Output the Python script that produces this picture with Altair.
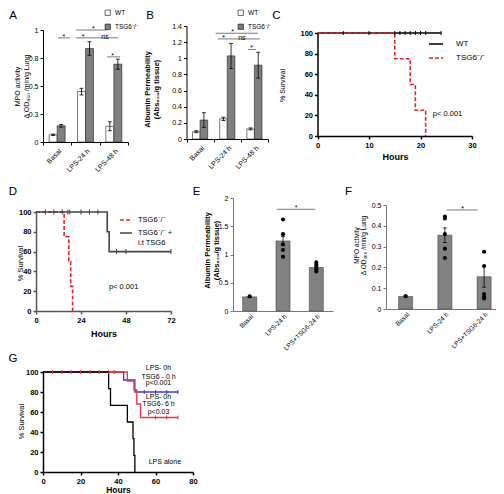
import altair as alt
import pandas as pd

W, H = 488, 486
M = 8
FONT = "Liberation Sans"


def cx(p):
    return p - M


def cy(p):
    return p - M


# ---------------- DATA ----------------
cats_ab = ["Basal", "LPS-24 h", "LPS-48 h"]
cats_ef = ["Basal", "LPS-24 h", "LPS+TSG6-24 h"]
genotypes = ["WT", "TSG6⁻/⁻"]

# A : MPO activity
a_wt_mean = [0.065, 0.45, 0.14]
a_wt_err = [0.006, 0.03, 0.04]
a_ko_mean = [0.145, 0.835, 0.695]
a_ko_err = [0.012, 0.06, 0.045]
a_sig_x1 = [0.53, 1.16, 1.16, 2.26]
a_sig_x2 = [0.95, 2.29, 2.65, 2.72]
a_sig_y = [0.93, 1.0, 0.93, 0.76]
a_txt_x = [0.74, 1.78, 1.42, 2.19, 2.46]
a_txt_y = [0.93, 1.0, 0.93, 0.93, 0.76]
a_txt = ["*", "*", "*", "ns", "*"]

# B : albumin permeability
b_wt_mean = [0.09, 0.25, 0.125]
b_wt_err = [0.012, 0.02, 0.012]
b_ko_mean = [0.235, 1.03, 0.915]
b_ko_err = [0.09, 0.155, 0.16]
b_sig_x1 = [1.07, 1.15, 2.26]
b_sig_x2 = [2.63, 2.70, 2.56]
b_sig_y = [1.31, 1.24, 1.11]
b_txt_x = [1.70, 1.37, 2.04, 2.40]
b_txt_y = [1.31, 1.24, 1.24, 1.11]
b_txt = ["*", "*", "ns", "*"]

# C : survival
c_groups = ["WT", "TSG6⁻/⁻"]
c_wt_t = [0, 24]
c_wt_s = [100, 100]
c_ko_t = [0, 15, 18, 19, 21]
c_ko_s = [100, 75, 50, 25, 0]
c_cens_t = [5, 10, 15, 16, 17, 18, 19, 20, 21, 24]
c_cens_s = [100] * 10
c_p_x = [22.4]
c_p_y = [21.4]
c_p = ["p< 0.001"]

# D : survival
d_groups = ["TSG6⁻/⁻", "TSG6⁻/⁻ +|i.t TSG6"]
d_ko_t = [0, 15, 17.5, 18.5, 19.5]
d_ko_s = [100, 75, 50, 25, 0]
d_tr_t = [0, 38, 39, 72]
d_tr_s = [100, 80, 60, 60]
d_cens_t = [5, 9.5, 14, 17, 18, 24, 28.5, 33, 43, 48, 72]
d_cens_s = [100, 100, 100, 100, 100, 100, 100, 100, 60, 60, 60]
d_p_x = [38.9]
d_p_y = [24.2]
d_p = ["p< 0.001"]

# E : albumin permeability
e_mean = [0.25, 1.24, 0.77]
e_err = [0.01, 0.075, 0.03]
dot_cat = ["Basal"] + ["LPS-24 h"] * 5 + ["LPS+TSG6-24 h"] * 5
e_dot = [0.26, 1.62, 1.36, 1.18, 1.08, 0.96, 0.86, 0.82, 0.78, 0.74, 0.70]
e_sig_x1 = [1.32]
e_sig_x2 = [2.46]
e_sig_y = [1.80]
e_txt_x = [1.89]
e_txt = ["*"]

# F : MPO activity
f_mean = [0.06, 0.355, 0.155]
f_err = [0.003, 0.035, 0.05]
f_dot = [0.062, 0.445, 0.435, 0.36, 0.29, 0.245, 0.275, 0.207, 0.072, 0.059, 0.051]
f_sig_x1 = [1.55]
f_sig_x2 = [2.34]
f_sig_y = [0.476]
f_txt_x = [1.95]
f_txt = ["*"]

# G : survival
g_alone_t = [0, 35, 36, 45, 48, 48.5, 49]
g_alone_s = [100, 83.3, 66.7, 50, 33.3, 16.7, 0]
g_t0_t = [0, 43, 49, 72]
g_t0_s = [100, 92, 80, 80]
g_t6_t = [0, 45, 48.5, 50, 52, 72]
g_t6_s = [100, 91, 82, 68, 54.5, 54.5]
g_t6_cens_t = [5, 10, 15, 20, 25, 30, 35, 38, 60, 66, 72]
g_t6_cens_s = [100, 100, 100, 100, 100, 100, 100, 100, 54.5, 54.5, 54.5]
g_t0_cens_t = [54, 60, 66, 72]
g_t0_cens_s = [80, 80, 80, 80]
g_note_x = [61.6, 61.6, 61.6, 61.6, 61.6, 61.6, 65]
g_note_y = [103.7, 95.3, 88.7, 75.3, 68, 60.3, 10]
g_note = ["LPS- 0h", "TSG6 - 0 h", "p<0.001", "LPS- 0h", "TSG6- 6 h", "p<0.03", "LPS alone"]

panel_letters = ["A", "B", "C", "D", "E", "F", "G"]

# ---------------- GEOMETRY (page pixels) ----------------
GEO = {
    "A": dict(x=(43, 128), y=(142, 30), ydom=(0, 1)),
    "B": dict(x=(186.5, 268), y=(139, 26), ydom=(0, 1.4)),
    "C": dict(x=(317.5, 472), y=(136, 33), xdom=(0, 30), ydom=(0, 100)),
    "D": dict(x=(36, 171), y=(311, 212), xdom=(0, 72), ydom=(0, 100)),
    "E": dict(x=(233, 333), y=(311, 198), ydom=(0, 2)),
    "F": dict(x=(386, 503.75), y=(309, 205), ydom=(0, 0.5)),
    "G": dict(x=(43, 193), y=(472, 372), xdom=(0, 80), ydom=(0, 100)),
}
LETTER_POS = [(13, 15.5), (150, 15.5), (276.5, 15.5), (13, 191.5), (196.5, 191.5), (348.5, 192),
              (13, 358.5)]


def XR(k):
    a, b = GEO[k]["x"]
    return [cx(a), cx(b)]


def YR(k):
    a, b = GEO[k]["y"]
    return [cy(a), cy(b)]


def qsc(dom, rng):
    return alt.Scale(domain=list(dom), range=list(rng), nice=False, zero=False)


def bsc(cats, rng):
    return alt.Scale(type="band", domain=list(cats), range=list(rng), paddingInner=0, paddingOuter=0)


def left_axis(k, values, title, tx, ty, fmt=None, bold=False, tbold=False, size=7, tsize=7,
              lh=9, dcol="black", dw=1.0):
    kw = dict(orient="left", offset=-cx(GEO[k]["x"][0]), values=values, title=title,
              titleX=tx - GEO[k]["x"][0], titleY=cy(ty), titleBaseline="middle", titleAngle=270,
              titleAlign="center", titleFontSize=tsize, titleFontWeight="bold" if tbold else "normal",
              titleLineHeight=lh, titleFont=FONT, titleColor="black",
              labelFontSize=size, labelFontWeight="bold" if bold else "normal", labelFont=FONT,
              labelColor="black", tickSize=3, domainColor=dcol, tickColor=dcol, domainWidth=dw,
              tickWidth=dw, labelPadding=2, labelOverlap=False, labelFlush=False, grid=False)
    if fmt:
        kw["format"] = fmt
    return alt.Axis(**kw)


def bottom_axis(k, values=None, title=None, tx=None, ty=None, bold=False, size=7, tsize=9,
                dcol="black", dw=1.0, band=False, ticks=True):
    kw = dict(orient="bottom", offset=cy(GEO[k]["y"][0]) - H, labelFontSize=size,
              labelFontWeight="bold" if bold else "normal", labelFont=FONT, labelColor="black",
              tickSize=3, domainColor=dcol, tickColor=dcol, domainWidth=dw, tickWidth=dw,
              labelPadding=2, labelOverlap=False, labelFlush=False, grid=False, ticks=ticks)
    if values is not None:
        kw["values"] = values
    if band:
        kw.update(labelAngle=315, tickBand="extent", labelAlign="right", labelBaseline="top")
    if title is not None:
        kw.update(title=title, titleX=cx(tx), titleY=ty - GEO[k]["y"][0], titleBaseline="middle",
                  titleFontSize=tsize, titleFontWeight="bold", titleFont=FONT, titleColor="black")
    else:
        kw["title"] = None
    return alt.Axis(**kw)


layers = []


def add(ch):
    layers.append(ch)


# ---------------- panels A & B ----------------
def grouped_panel(k, series, bw, xaxis, yaxis, leg_xy, sig, txt):
    X, Y, yd = XR(k), YR(k), GEO[k]["ydom"]
    cscale = alt.Scale(domain=genotypes, range=["white", "#7f7f7f"])
    for i, (g, m, e) in enumerate(series):
        off = -bw / 2 if i == 0 else bw / 2
        df = pd.DataFrame({"cat": cats_ab, "mean": m, "err": e, "g": [g] * len(cats_ab)})
        base = alt.Chart(df)
        if i == 0:
            leg = alt.Legend(orient="none", legendX=cx(leg_xy[0]), legendY=cy(leg_xy[1]), title=None,
                             symbolType="square", symbolSize=28, symbolStrokeColor="black",
                             symbolStrokeWidth=0.6, labelFontSize=6.5, labelFont=FONT, labelOffset=4,
                             rowPadding=5, padding=0)
            xa, ya = xaxis, yaxis
        else:
            leg, xa, ya = None, None, None
        add(base.mark_bar(width=bw, xOffset=off, stroke="#222", strokeWidth=0.6).encode(
            x=alt.X("cat:N", scale=bsc(cats_ab, X), axis=xa, title=None),
            y=alt.Y("mean:Q", scale=qsc(yd, Y), axis=ya),
            color=alt.Color("g:N", scale=cscale, legend=leg)))
        eb = base.transform_calculate(lo="datum.mean - datum.err", hi="datum.mean + datum.err")
        add(eb.mark_rule(xOffset=off, color="black", strokeWidth=0.8).encode(
            x=alt.X("cat:N", scale=bsc(cats_ab, X), axis=None),
            y=alt.Y("lo:Q", scale=qsc(yd, Y), axis=None), y2="hi:Q"))
        for f in ("lo", "hi"):
            add(eb.mark_tick(orient="horizontal", size=4, thickness=0.8, xOffset=off, color="black",
                             opacity=1).encode(
                x=alt.X("cat:N", scale=bsc(cats_ab, X), axis=None),
                y=alt.Y(f + ":Q", scale=qsc(yd, Y), axis=None)))
    sx1, sx2, sy = sig
    add(alt.Chart(pd.DataFrame({"x1": sx1, "x2": sx2, "y": sy})).mark_rule(
        color="#555", strokeWidth=0.8).encode(
        x=alt.X("x1:Q", scale=qsc((0, 3), X), axis=None), x2="x2:Q",
        y=alt.Y("y:Q", scale=qsc(yd, Y), axis=None)))
    tx_, ty_, tt_ = txt
    add(alt.Chart(pd.DataFrame({"x": tx_, "y": ty_, "t": tt_})).mark_text(
        fontSize=7, baseline="alphabetic", dy=1, color="black").encode(
        x=alt.X("x:Q", scale=qsc((0, 3), X), axis=None),
        y=alt.Y("y:Q", scale=qsc(yd, Y), axis=None), text="t:N"))


grouped_panel(
    "A",
    [(genotypes[0], a_wt_mean, a_wt_err), (genotypes[1], a_ko_mean, a_ko_err)],
    8,
    bottom_axis("A", band=True),
    left_axis("A", [0, 0.25, 0.5, 0.75, 1], ["MPO activity", "Δ OD₄₆₀ /min/g Lung"], 17.5, 86, fmt="~g"),
    (104.5, 9.5),
    (a_sig_x1, a_sig_x2, a_sig_y),
    (a_txt_x, a_txt_y, a_txt),
)
grouped_panel(
    "B",
    [(genotypes[0], b_wt_mean, b_wt_err), (genotypes[1], b_ko_mean, b_ko_err)],
    7.6,
    bottom_axis("B", band=True),
    left_axis("B", [0, 0.2, 0.4, 0.6, 0.8, 1, 1.2, 1.4], ["Albumin Permeability", "(Abs₆₂₀/g tissue)"],
              147, 89, fmt="~g", tbold=True, tsize=7.5),
    (237.5, 9.5),
    (b_sig_x1, b_sig_x2, b_sig_y),
    (b_txt_x, b_txt_y, b_txt),
)


# ---------------- panels E & F ----------------
def single_panel(k, mean, err, dots, bw, xaxis, yaxis, sig, txt):
    X, Y, yd = XR(k), YR(k), GEO[k]["ydom"]
    df = pd.DataFrame({"cat": cats_ef, "mean": mean, "err": err})
    base = alt.Chart(df)
    add(base.mark_bar(width=bw, color="#828282", stroke="#444", strokeWidth=0.6).encode(
        x=alt.X("cat:N", scale=bsc(cats_ef, X), axis=xaxis, title=None),
        y=alt.Y("mean:Q", scale=qsc(yd, Y), axis=yaxis)))
    eb = base.transform_calculate(lo="datum.mean - datum.err", hi="datum.mean + datum.err")
    add(eb.mark_rule(color="black", strokeWidth=0.8).encode(
        x=alt.X("cat:N", scale=bsc(cats_ef, X), axis=None),
        y=alt.Y("lo:Q", scale=qsc(yd, Y), axis=None), y2="hi:Q"))
    for f in ("lo", "hi"):
        add(eb.mark_tick(orient="horizontal", size=4, thickness=0.8, color="black", opacity=1).encode(
            x=alt.X("cat:N", scale=bsc(cats_ef, X), axis=None),
            y=alt.Y(f + ":Q", scale=qsc(yd, Y), axis=None)))
    add(alt.Chart(pd.DataFrame({"cat": dot_cat, "v": dots})).mark_circle(
        size=17, color="black", opacity=1).encode(
        x=alt.X("cat:N", scale=bsc(cats_ef, X), axis=None),
        y=alt.Y("v:Q", scale=qsc(yd, Y), axis=None)))
    sx1, sx2, sy = sig
    add(alt.Chart(pd.DataFrame({"x1": sx1, "x2": sx2, "y": sy})).mark_rule(
        color="#555", strokeWidth=0.8).encode(
        x=alt.X("x1:Q", scale=qsc((0, 3), X), axis=None), x2="x2:Q",
        y=alt.Y("y:Q", scale=qsc(yd, Y), axis=None)))
    tx_, ty_, tt_ = txt
    add(alt.Chart(pd.DataFrame({"x": tx_, "y": ty_, "t": tt_})).mark_text(
        fontSize=7, baseline="alphabetic", dy=1, color="black").encode(
        x=alt.X("x:Q", scale=qsc((0, 3), X), axis=None),
        y=alt.Y("y:Q", scale=qsc(yd, Y), axis=None), text="t:N"))


single_panel(
    "E", e_mean, e_err, e_dot, 14,
    bottom_axis("E", band=True, ticks=False, dcol="#777", size=6.5),
    left_axis("E", [0, 0.5, 1, 1.5, 2], ["Albumin Permeability", "(Abs₆₂₀/g tissue)"], 207.5, 250,
              fmt="~g", tbold=True, tsize=7.5, dcol="#777"),
    (e_sig_x1, e_sig_x2, e_sig_y),
    (e_txt_x, e_sig_y, e_txt),
)
single_panel(
    "F", f_mean, f_err, f_dot, 14,
    bottom_axis("F", band=True, ticks=False, dcol="#777", size=6.5),
    left_axis("F", [0, 0.1, 0.2, 0.3, 0.4, 0.5], ["MPO activity", "Δ OD₄₆₀ /min/g Lung"], 356.3, 245,
              fmt="~g", tsize=6.5, lh=7, dcol="#777"),
    (f_sig_x1, f_sig_x2, f_sig_y),
    (f_txt_x, f_sig_y, f_txt),
)


# ---------------- survival panels ----------------
def surv_scales(k):
    return qsc(GEO[k]["xdom"], XR(k)), qsc(GEO[k]["ydom"], YR(k))


def censor(k, t, s, color, size=4):
    xs, ys = surv_scales(k)
    add(alt.Chart(pd.DataFrame({"t": t, "s": s})).mark_tick(
        orient="vertical", size=size, thickness=1, color=color, opacity=1).encode(
        x=alt.X("t:Q", scale=xs, axis=None), y=alt.Y("s:Q", scale=ys, axis=None)))


def note(k, xv, yv, tv, align="left", size=7.5):
    xs, ys = surv_scales(k)
    add(alt.Chart(pd.DataFrame({"x": xv, "y": yv, "t": tv})).mark_text(
        align=align, baseline="middle", fontSize=size, color="black").encode(
        x=alt.X("x:Q", scale=xs, axis=None), y=alt.Y("y:Q", scale=ys, axis=None), text="t:N"))


# C
xs, ys = surv_scales("C")
c_df = pd.DataFrame({"t": c_wt_t + c_ko_t, "s": c_wt_s + c_ko_s,
                     "g": [c_groups[0]] * len(c_wt_t) + [c_groups[1]] * len(c_ko_t)})
legC = alt.Legend(orient="none", legendX=cx(428), legendY=cy(36), title=None, symbolType="stroke",
                  symbolSize=196, symbolStrokeWidth=1.6, labelFontSize=8, labelFont=FONT,
                  labelOffset=12, rowPadding=2, padding=0)
add(alt.Chart(c_df).mark_line(interpolate="step-after", strokeWidth=1.6).encode(
    x=alt.X("t:Q", scale=xs, axis=bottom_axis("C", [0, 10, 20, 30], "Hours", 395, 156, bold=True,
                                             size=7.5, dw=1.5)),
    y=alt.Y("s:Q", scale=ys, axis=left_axis("C", [0, 20, 40, 60, 80, 100], "% Survival", 282, 85,
                                           bold=True, size=7.5, dw=1.5)),
    color=alt.Color("g:N", scale=alt.Scale(domain=c_groups, range=["black", "#e3262b"]), legend=legC),
    strokeDash=alt.StrokeDash("g:N", scale=alt.Scale(domain=c_groups, range=[[1, 0], [4, 2]]),
                              legend=legC)))
censor("C", c_cens_t, c_cens_s, "black")
note("C", c_p_x, c_p_y, c_p)

# D
xs, ys = surv_scales("D")
d_df = pd.DataFrame({"t": d_ko_t + d_tr_t, "s": d_ko_s + d_tr_s,
                     "g": [d_groups[0]] * len(d_ko_t) + [d_groups[1]] * len(d_tr_t)})
legD = alt.Legend(orient="none", legendX=cx(119), legendY=cy(213), title=None, symbolType="stroke",
                  symbolSize=144, symbolStrokeWidth=1.6, labelFontSize=7.5, labelFont=FONT,
                  labelOffset=5, rowPadding=2, padding=0, labelExpr="split(datum.label, '|')")
add(alt.Chart(d_df).mark_line(interpolate="step-after", strokeWidth=1.6).encode(
    x=alt.X("t:Q", scale=xs, axis=bottom_axis("D", [0, 24, 48, 72], "Hours", 103.5, 333, bold=True,
                                             size=7.5, dw=1.5, dcol="#555")),
    y=alt.Y("s:Q", scale=ys, axis=left_axis("D", [0, 20, 40, 60, 80, 100], "% Survival", 20, 263,
                                           bold=True, size=7.5, tsize=7.5, dw=1.5, dcol="#555")),
    color=alt.Color("g:N", scale=alt.Scale(domain=d_groups, range=["#e3262b", "#444"]), legend=legD),
    strokeDash=alt.StrokeDash("g:N", scale=alt.Scale(domain=d_groups, range=[[4, 2], [1, 0]]),
                              legend=legD)))
censor("D", d_cens_t, d_cens_s, "#444", size=5)
note("D", d_p_x, d_p_y, d_p)

# G
xs, ys = surv_scales("G")
g_first = True
for t, s, col in [(g_t0_t, g_t0_s, "#3b3bc8"), (g_t6_t, g_t6_s, "#e8383d"), (g_alone_t, g_alone_s, "black")]:
    if g_first:
        xa = bottom_axis("G", [0, 20, 40, 60, 80], "Hours", 118, 489.5, bold=True, size=7.5, tsize=8.5,
                         dw=1.5)
        ya = left_axis("G", [0, 20, 40, 60, 80, 100], "% Survival", 21.5, 421, bold=True, size=7.5,
                       tsize=7.5, dw=1.5)
    else:
        xa, ya = None, None
    g_first = False
    add(alt.Chart(pd.DataFrame({"t": t, "s": s})).mark_line(
        interpolate="step-after", strokeWidth=1.3, color=col).encode(
        x=alt.X("t:Q", scale=xs, axis=xa), y=alt.Y("s:Q", scale=ys, axis=ya)))
censor("G", g_t0_cens_t, g_t0_cens_s, "#3b3bc8")
censor("G", g_t6_cens_t, g_t6_cens_s, "#e8383d")
note("G", g_note_x, g_note_y, g_note, align="center", size=7)

# panel letters
for letter, (px, py) in zip(panel_letters, LETTER_POS):
    add(alt.Chart(pd.DataFrame({"t": [letter]})).mark_text(
        fontSize=11.5, align="center", baseline="middle", color="black").encode(
        x=alt.value(cx(px)), y=alt.value(cy(py)), text="t:N"))

chart = alt.layer(*layers).resolve_scale(
    x="independent", y="independent", color="independent", strokeDash="independent"
).resolve_axis(
    x="independent", y="independent"
).resolve_legend(
    color="independent", strokeDash="independent"
).properties(
    width=W, height=H, padding=0, autosize=alt.AutoSizeParams(type="none")
).configure_view(
    strokeWidth=0
).configure_text(
    font=FONT
).configure_legend(
    labelFont=FONT
)

chart.save("out.html", embed_options={"renderer": "svg", "actions": False})
